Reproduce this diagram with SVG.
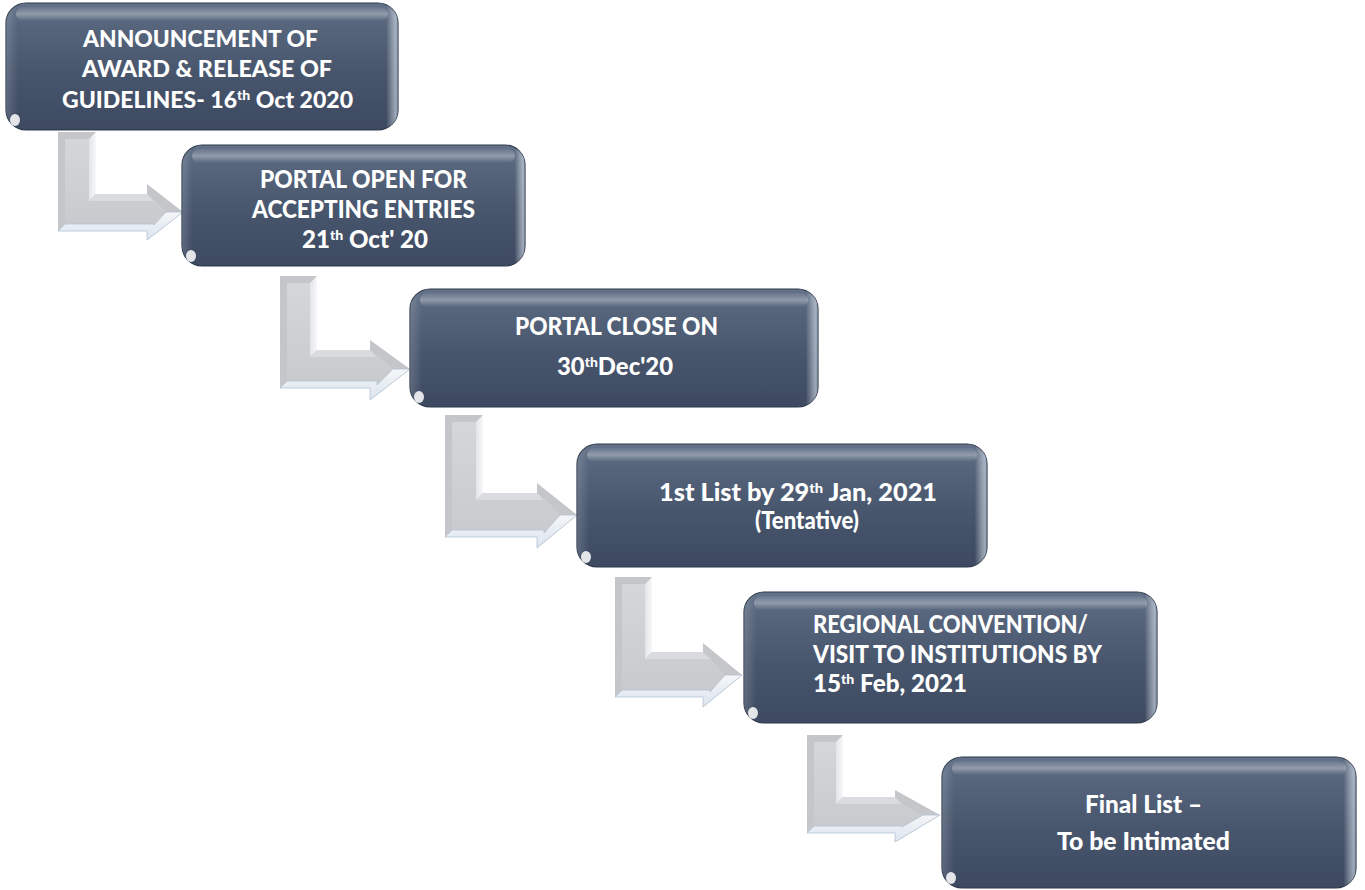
<svg xmlns="http://www.w3.org/2000/svg" width="1365" height="890" viewBox="0 0 1365 890">
<defs>
<linearGradient id="boxFill" x1="0" y1="0" x2="0" y2="1">
<stop offset="0" stop-color="#637289"/>
<stop offset="0.18" stop-color="#56657c"/>
<stop offset="0.55" stop-color="#48566d"/>
<stop offset="1" stop-color="#3c4961"/>
</linearGradient>
<linearGradient id="sideSheen" x1="0" y1="0" x2="1" y2="0">
<stop offset="0" stop-color="#ffffff" stop-opacity="0.16"/>
<stop offset="0.03" stop-color="#ffffff" stop-opacity="0"/>
<stop offset="0.97" stop-color="#ffffff" stop-opacity="0"/>
<stop offset="0.995" stop-color="#dfe8f3" stop-opacity="0.6"/>
<stop offset="1" stop-color="#dfe8f3" stop-opacity="0.25"/>
</linearGradient>
<linearGradient id="gloss" x1="0" y1="0" x2="0" y2="1">
<stop offset="0" stop-color="#ffffff" stop-opacity="0.05"/>
<stop offset="0.5" stop-color="#ffffff" stop-opacity="0.32"/>
<stop offset="1" stop-color="#ffffff" stop-opacity="0"/>
</linearGradient>
<linearGradient id="armInner" x1="0" y1="0" x2="0" y2="1">
<stop offset="0" stop-color="#d4d6d9"/>
<stop offset="1" stop-color="#c8cacd"/>
</linearGradient>
<linearGradient id="armRight" x1="0" y1="0" x2="1" y2="0">
<stop offset="0" stop-color="#e2e4e7"/>
<stop offset="1" stop-color="#f7f8fa"/>
</linearGradient>
<linearGradient id="armBottom" x1="0" y1="0" x2="0" y2="1">
<stop offset="0" stop-color="#f4f6f9"/>
<stop offset="1" stop-color="#dbe4ee"/>
</linearGradient>
</defs>
<style>
.box{fill:url(#boxFill);stroke:#2f3a4c;stroke-width:1.2}
.sheen{fill:url(#sideSheen)}
.gloss{fill:url(#gloss)}
.spot{fill:#ffffff;opacity:0.85}
.t{fill:#ffffff;font-family:Lato,"Open Sans","Liberation Sans",sans-serif;font-weight:900;font-size:24px;text-anchor:middle}
.s{font-size:23px}
.l{text-anchor:start}
.sup{font-size:14px}
.aOut{fill:#c4c6ca}
.aIn{fill:url(#armInner)}
.aR{fill:url(#armRight)}
.aT{fill:#d9dbde}
.aB{fill:url(#armBottom);stroke:#b3c1d2;stroke-width:0.8}
</style>
<rect width="1365" height="890" fill="#ffffff"/>
<g id="connectors">
<g id="arrow1">
<polygon class="aOut" points="58,132 96,132 96,194 147,194 147,184 183,212 147,240 147,231 58,231"/>
<polygon class="aIn" points="65,139 89,139 89,201 154,201 154,199 166,212 154,225 154,224 65,224"/>
<polygon class="aR" points="89,139 96,132 96,194 89,201"/>
<polygon class="aT" points="96,194 89,201 154,201 147,194"/>
<polygon class="aB" points="58,231 65,224 154,224 154,225 166,212 183,212 147,240 147,231"/>
</g>
<g id="arrow2">
<polygon class="aOut" points="280,276 317,276 317,350 370,350 370,340 410,369 370,400 370,388 280,388"/>
<polygon class="aIn" points="287,283 310,283 310,357 377,357 377,355 393,369 377,385 377,381 287,381"/>
<polygon class="aR" points="310,283 317,276 317,350 310,357"/>
<polygon class="aT" points="317,350 310,357 377,357 370,350"/>
<polygon class="aB" points="280,388 287,381 377,381 377,385 393,369 410,369 370,400 370,388"/>
</g>
<g id="arrow3">
<polygon class="aOut" points="445,415 483,415 483,493 537,493 537,483 577,515 537,548 537,537 445,537"/>
<polygon class="aIn" points="452,422 476,422 476,500 544,500 544,498 560,515 544,533 544,530 452,530"/>
<polygon class="aR" points="476,422 483,415 483,493 476,500"/>
<polygon class="aT" points="483,493 476,500 544,500 537,493"/>
<polygon class="aB" points="445,537 452,530 544,530 544,533 560,515 577,515 537,548 537,537"/>
</g>
<g id="arrow4">
<polygon class="aOut" points="615,577 652,577 652,652 703,652 703,643 742,675 703,707 703,697 615,697"/>
<polygon class="aIn" points="622,584 645,584 645,659 710,659 710,658 725,675 710,692 710,690 622,690"/>
<polygon class="aR" points="645,584 652,577 652,652 645,659"/>
<polygon class="aT" points="652,652 645,659 710,659 703,652"/>
<polygon class="aB" points="615,697 622,690 710,690 710,692 725,675 742,675 703,707 703,697"/>
</g>
<g id="arrow5">
<polygon class="aOut" points="807,735 843,735 843,797 895,797 895,790 940,815 895,842 895,833 807,833"/>
<polygon class="aIn" points="814,742 836,742 836,804 902,804 902,804 923,815 902,827 902,826 814,826"/>
<polygon class="aR" points="836,742 843,735 843,797 836,804"/>
<polygon class="aT" points="843,797 836,804 902,804 895,797"/>
<polygon class="aB" points="807,833 814,826 902,826 902,827 923,815 940,815 895,842 895,833"/>
</g>
</g>
<g id="n1">
<rect class="box" x="6" y="3" width="392" height="127" rx="20"/>
<rect class="sheen" x="6" y="3" width="392" height="127" rx="20"/>
<rect class="gloss" x="16" y="7" width="372" height="14" rx="7"/>
<ellipse class="spot" cx="15" cy="120" rx="5" ry="6"/>
<text class="t s" x="200.5" y="47" textLength="235" lengthAdjust="spacingAndGlyphs">ANNOUNCEMENT OF</text>
<text class="t s" x="207" y="77" textLength="250" lengthAdjust="spacingAndGlyphs">AWARD &amp; RELEASE OF</text>
<text class="t s" x="207.5" y="108" textLength="291" lengthAdjust="spacingAndGlyphs">GUIDELINES- 16<tspan class="sup" dy="-8">th</tspan><tspan dy="8"> Oct 2020</tspan></text>
</g>
<g id="n2">
<rect class="box" x="182" y="145" width="343" height="121" rx="20"/>
<rect class="sheen" x="182" y="145" width="343" height="121" rx="20"/>
<rect class="gloss" x="192" y="149" width="323" height="14" rx="7"/>
<ellipse class="spot" cx="191" cy="256" rx="5" ry="6"/>
<text class="t" x="363.5" y="188" textLength="207" lengthAdjust="spacingAndGlyphs">PORTAL OPEN FOR</text>
<text class="t" x="363.5" y="218" textLength="223" lengthAdjust="spacingAndGlyphs">ACCEPTING ENTRIES</text>
<text class="t" x="365" y="248" textLength="126" lengthAdjust="spacingAndGlyphs">21<tspan class="sup" dy="-8">th</tspan><tspan dy="8"> Oct' 20</tspan></text>
</g>
<g id="n3">
<rect class="box" x="410" y="289" width="408" height="118" rx="20"/>
<rect class="sheen" x="410" y="289" width="408" height="118" rx="20"/>
<rect class="gloss" x="420" y="293" width="388" height="14" rx="7"/>
<ellipse class="spot" cx="419" cy="397" rx="5" ry="6"/>
<text class="t" x="616.5" y="335" textLength="203" lengthAdjust="spacingAndGlyphs">PORTAL CLOSE ON</text>
<text class="t" x="615" y="375" textLength="116" lengthAdjust="spacingAndGlyphs">30<tspan class="sup" dy="-8">th</tspan><tspan dy="8">Dec'20</tspan></text>
</g>
<g id="n4">
<rect class="box" x="577" y="444" width="410" height="123" rx="20"/>
<rect class="sheen" x="577" y="444" width="410" height="123" rx="20"/>
<rect class="gloss" x="587" y="448" width="390" height="14" rx="7"/>
<ellipse class="spot" cx="586" cy="557" rx="5" ry="6"/>
<text class="t" x="798" y="501" textLength="278" lengthAdjust="spacingAndGlyphs">1st List by 29<tspan class="sup" dy="-8">th</tspan><tspan dy="8"> Jan, 2021</tspan></text>
<text class="t" x="807" y="529" textLength="104" lengthAdjust="spacingAndGlyphs">(Tentative)</text>
</g>
<g id="n5">
<rect class="box" x="744" y="592" width="413" height="131" rx="20"/>
<rect class="sheen" x="744" y="592" width="413" height="131" rx="20"/>
<rect class="gloss" x="754" y="596" width="393" height="14" rx="7"/>
<ellipse class="spot" cx="753" cy="713" rx="5" ry="6"/>
<text class="t l" x="813" y="633" textLength="275" lengthAdjust="spacingAndGlyphs">REGIONAL CONVENTION/</text>
<text class="t l" x="813" y="663" textLength="289" lengthAdjust="spacingAndGlyphs">VISIT TO INSTITUTIONS BY</text>
<text class="t l" x="813" y="692" textLength="154" lengthAdjust="spacingAndGlyphs">15<tspan class="sup" dy="-8">th</tspan><tspan dy="8"> Feb, 2021</tspan></text>
</g>
<g id="n6">
<rect class="box" x="942" y="757" width="414" height="131" rx="20"/>
<rect class="sheen" x="942" y="757" width="414" height="131" rx="20"/>
<rect class="gloss" x="952" y="761" width="394" height="14" rx="7"/>
<ellipse class="spot" cx="951" cy="878" rx="5" ry="6"/>
<text class="t" x="1143.5" y="813" textLength="117" lengthAdjust="spacingAndGlyphs">Final List –</text>
<text class="t" x="1143.5" y="850" textLength="173" lengthAdjust="spacingAndGlyphs">To be Intimated</text>
</g>
</svg>
